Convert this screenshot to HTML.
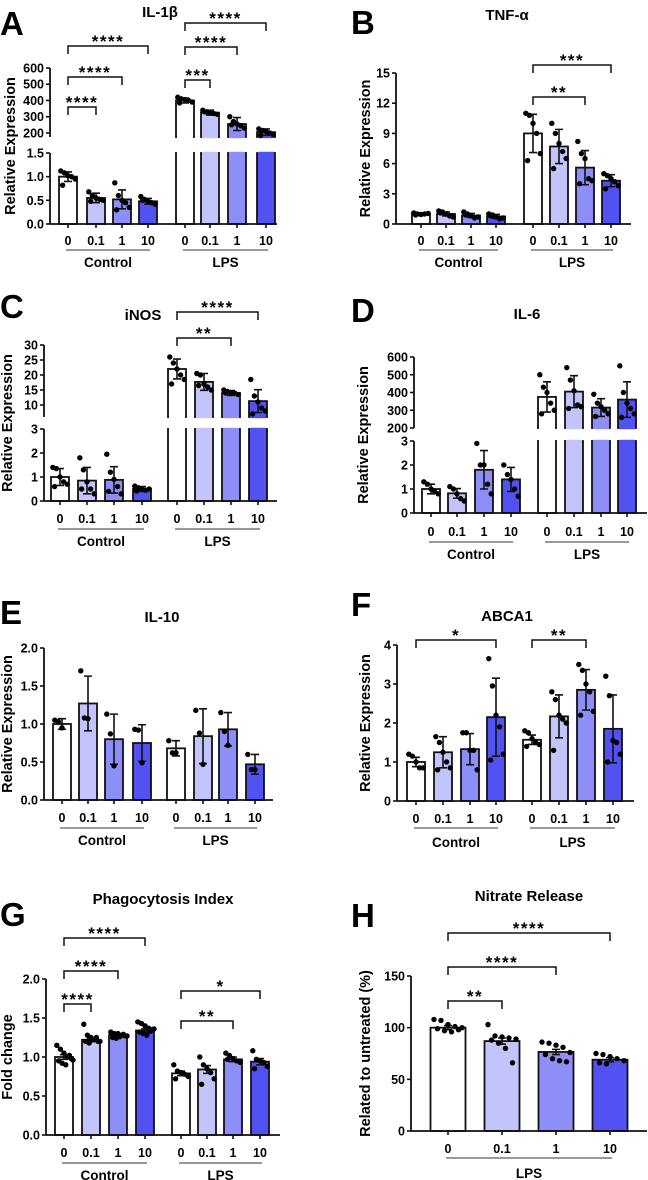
<!DOCTYPE html>
<html><head><meta charset="utf-8"><style>
html,body{margin:0;padding:0;background:#fff;}
svg{display:block;font-family:"Liberation Sans",Arial,sans-serif;font-weight:bold;}
</style></head><body>
<svg id="fig" width="648" height="1180" viewBox="0 0 648 1180" xmlns="http://www.w3.org/2000/svg"></svg>
<script>
// ===== DATA =====
const doseLabels = ["0","0.1","1","10"];
const groupNames = ["Control","LPS"];
// A IL-1b
const aMeans = [1.0,0.55,0.52,0.48,400,325,255,205];
const aErrs = [0.1,0.1,0.2,0.06,15,15,40,20];
const aPts = [[1.12,1.08,1.02,1.0,0.95,0.82],[0.68,0.6,0.55,0.52,0.5,0.48],[0.87,0.6,0.5,0.45,0.35,0.3],[0.58,0.52,0.48,0.45,0.42,0.5],[420,410,405,400,390,385],[340,330,325,320,315,330],[300,270,255,245,230,250],[225,215,210,200,190,185]];
const aTicksLow = [0,0.5,1.0,1.5], aTickLabLow = ["0.0","0.5","1.0","1.5"];
const aTicksUp = [200,300,400,500,600], aTickLabUp = ["200","300","400","500","600"];
// B TNF-a
const bMeans = [1.0,1.0,0.85,0.75,9,7.7,5.6,4.3];
const bErrs = [0.1,0.2,0.2,0.2,1.9,1.7,1.7,0.6];
const bPts = [[1.1,1.0,0.95,1.0,1.05,0.9],[1.3,1.2,1.0,0.8,0.7,1.1],[1.2,1.0,0.8,0.6,0.7,0.9],[1.0,0.9,0.7,0.5,0.6,0.8],[11,10.8,10,9,7,6.3],[10,9,8,7.2,6.5,5.5],[8.2,7,6.5,4.5,4.3,4],[5,4.8,4.5,4.2,3.8,3.5]];
const bTicks = [0,3,6,9,12,15], bTickLab = ["0","3","6","9","12","15"];
// C iNOS
const cMeans = [1.0,0.85,0.88,0.5,22,17.7,14,11.3];
const cErrs = [0.35,0.55,0.55,0.1,3.3,2.8,0.8,3.8];
const cPts = [[1.4,1.35,1.0,0.8,0.7,0.6],[1.8,1.3,0.8,0.5,0.3,0.5],[1.95,1.2,0.9,0.6,0.3,0.4],[0.62,0.55,0.5,0.45,0.5,0.42],[26,24,22,20,18.5,17],[20.5,20,17,16,15,16.5],[15,14.5,14,14,13.5,14],[18.5,13,11,9,8,7]];
const cTicksLow = [0,1,2,3], cTickLabLow = ["0","1","2","3"];
const cTicksUp = [10,15,20,25,30], cTickLabUp = ["10","15","20","25","30"];
// D IL-6
const dMeans = [1.0,0.82,1.8,1.4,375,405,315,360];
const dErrs = [0.2,0.2,0.8,0.5,85,90,50,100];
const dPts = [[1.3,1.2,1.0,0.9,0.8],[1.1,1.0,0.8,0.6,0.5],[2.9,2.0,2.0,1.2,0.8],[2.0,1.6,1.4,1.0,0.7],[500,430,400,340,300,280],[540,470,410,330,320,310],[390,340,320,300,280,265],[550,400,340,310,280,260]];
const dTicksLow = [0,1,2,3], dTickLabLow = ["0","1","2","3"];
const dTicksUp = [200,300,400,500,600], dTickLabUp = ["200","300","400","500","600"];
// E IL-10
const eMeans = [1.0,1.27,0.8,0.75,0.68,0.84,0.93,0.47];
const eErrs = [0.07,0.36,0.33,0.24,0.1,0.36,0.22,0.13];
const ePts = [[1.05,1.03,0.95],[1.7,1.08,1.07],[1.13,0.87,0.45],[0.93,0.92,0.49],[0.78,0.62,0.62],[1.18,0.88,0.47],[1.15,0.9,0.72],[0.6,0.4,0.4]];
const eTicks = [0,0.5,1.0,1.5,2.0], eTickLab = ["0.0","0.5","1.0","1.5","2.0"];
// F ABCA1
const fMeans = [1.0,1.25,1.33,2.15,1.57,2.17,2.85,1.85];
const fErrs = [0.12,0.4,0.4,1.0,0.12,0.55,0.52,0.87];
const fPts = [[1.2,1.15,1.0,0.85,0.85],[1.65,1.5,1.25,1.0,0.85,0.8],[1.75,1.75,1.3,1.3,0.8],[3.65,2.95,2.2,1.9,1.2,1.05],[1.8,1.75,1.6,1.5,1.45,1.4],[2.8,2.6,2.2,2.1,2.0,1.3],[3.5,3.35,3.0,2.8,2.3,2.2],[3.2,2.7,1.55,1.5,1.2,1.0]];
const fTicks = [0,1,2,3,4], fTickLab = ["0","1","2","3","4"];
// G Phagocytosis
const gMeans = [1.0,1.22,1.28,1.34,0.79,0.84,0.97,0.94];
const gErrs = [0.03,0.02,0.01,0.02,0.03,0.05,0.03,0.04];
const gPts = [[1.15,1.1,1.05,1.0,0.98,0.95,0.92,0.9,1.02,0.96],[1.42,1.28,1.25,1.22,1.2,1.2,1.18,1.22,1.25,1.2],[1.32,1.3,1.3,1.28,1.27,1.25,1.24,1.26,1.29,1.27],[1.45,1.43,1.4,1.37,1.35,1.32,1.3,1.28,1.33,1.36],[0.9,0.82,0.8,0.78,0.75,0.72],[1.0,0.9,0.85,0.8,0.72,0.65],[1.05,1.02,0.98,0.95,0.93,0.97],[1.08,0.97,0.95,0.93,0.88,0.85]];
const gTicks = [0,0.5,1.0,1.5,2.0], gTickLab = ["0.0","0.5","1.0","1.5","2.0"];
// H Nitrate
const hMeans = [100,87,76.5,69];
const hErrs = [2,3,2.5,2];
const hPts = [[108,107,103,101,100,99,97,96,98],[103,92,91,90,89,88,85,80,66],[86,85,83,81,76,74,70,68,67],[75,74,72,70,68,66,65]];
const hTicks = [0,50,100,150], hTickLab = ["0","50","100","150"];

// ===== RENDER =====
const NS = "http://www.w3.org/2000/svg";
const svg = document.getElementById("fig");
const colors = ["#ffffff","#c4c4fc","#8e8ef9","#5252f2"];
function mk(tag, attrs, parent, text){
  const e = document.createElementNS(NS, tag);
  for (const k in attrs) e.setAttribute(k, attrs[k]);
  if (text !== undefined) e.textContent = text;
  (parent || svg).appendChild(e);
  return e;
}
function panel(c){
  const g = mk("g", {});
  
  
  function segFor(v){ for (let i=c.segs.length-1;i>=0;i--){ if (v>=c.segs[i].v0) return c.segs[i]; } return c.segs[0]; }
  function y(v){ const s=segFor(v); const vv=Math.min(v,s.v1*1.2); return s.p0+(vv-s.v0)*(s.p1-s.p0)/(s.v1-s.v0); }
  function ys(s,v){ return s.p0+(v-s.v0)*(s.p1-s.p0)/(s.v1-s.v0); }
  const L = mk("text",{x:c.letter[1],y:c.letter[2],"font-size":33,fill:"#000"},g,c.letter[0]);
   
  const T = mk("text",{x:c.title[1],y:c.title[2],"font-size":15,"text-anchor":"middle",fill:"#000"},g,c.title[0]);
   
  const midY = (c.segs[0].p0 + c.segs[c.segs.length-1].p1)/2;
  const YT = mk("text",{x:0,y:0,"font-size":14.5,"text-anchor":"middle",transform:`translate(${c.yTitleX},${midY}) rotate(-90)`},g,c.yTitle);
   
  c.means.forEach((m,i)=>{
    const x = c.xs[i], bw=c.bw;
    c.segs.forEach(s=>{
      if (m > s.v0){
        const top = ys(s, Math.min(m, s.v1));
        const r = mk("rect",{x:x-bw/2,y:top,width:bw,height:s.p0-top,fill:colors[i%4],stroke:"#111","stroke-width":1.8},g);
         
        if (m > s.v1) mk("line",{x1:x-bw/2+1,x2:x+bw/2-1,y1:top,y2:top,stroke:colors[i%4],"stroke-width":2.4},g);
        if (s.v0>0) mk("line",{x1:x-bw/2+1,x2:x+bw/2-1,y1:s.p0,y2:s.p0,stroke:colors[i%4],"stroke-width":2.4},g);
      }
    });
    const e = c.errs[i], s = segFor(m);
    const yTop = ys(s, m+e), yBot = ys(s, Math.max(m-e, s.v0));
    const eb = mk("path",{d:`M${x},${yBot}L${x},${yTop}M${x-4},${yTop}L${x+4},${yTop}M${x-4},${ys(s,m-e)}L${x+4},${ys(s,m-e)}`,stroke:"#111","stroke-width":1.6,fill:"none"},g);
     
    c.pts[i].forEach((p,k)=>{
      const off = ((k%5)-2)*(bw*0.2) + (k>=5?bw*0.1:0);
      const d = mk("circle",{cx:x+off,cy:y(p),r:2.7,fill:"#000"},g);
       
    });
  });
  c.segs.forEach(s=>{
    const ax = mk("line",{x1:c.axX,x2:c.axX,y1:s.p0,y2:s.p1,stroke:"#111","stroke-width":1.8},g);
     
    s.ticks.forEach((t,k)=>{
      const ty = ys(s,t);
      mk("line",{x1:c.axX-4,x2:c.axX,y1:ty,y2:ty,stroke:"#111","stroke-width":1.6},g);
      const tl = mk("text",{x:c.axX-6,y:ty+4.5,"font-size":12.5,"text-anchor":"end"},g,s.labels[k]);
       
    });
  });
  const xa = mk("line",{x1:c.axX,x2:c.axEnd,y1:c.segs[0].p0,y2:c.segs[0].p0,stroke:"#111","stroke-width":1.8},g);
   
  c.xs.forEach((x,i)=>{
    mk("line",{x1:x,x2:x,y1:c.segs[0].p0,y2:c.segs[0].p0+4,stroke:"#111","stroke-width":1.6},g);
    const xl = mk("text",{x:x,y:c.tickY,"font-size":12.5,"text-anchor":"middle"},g,doseLabels[i%4]);
     
  });
  c.groups.forEach(gr=>{
    mk("line",{x1:c.xs[gr[0]]-2,x2:c.xs[gr[1]]+2,y1:c.groupLineY,y2:c.groupLineY,stroke:"#333","stroke-width":1},g);
    const gl = mk("text",{x:(c.xs[gr[0]]+c.xs[gr[1]])/2,y:c.groupY,"font-size":13.5,"text-anchor":"middle"},g,gr[2]);
     
  });
  (c.brackets||[]).forEach(b=>{
    const x1=c.xs[b[0]], x2=c.xs[b[1]], by=b[2];
    const br = mk("path",{d:`M${x1},${by+8}L${x1},${by}L${x2},${by}L${x2},${by+8}`,stroke:"#111","stroke-width":1.5,fill:"none"},g);
     
    const st = mk("text",{x:(x1+x2)/2,y:by+1,"font-size":17,"text-anchor":"middle","letter-spacing":"1.5"},g,b[3]);
     
  });
}
const G2 = [[0,3,"Control"],[4,7,"LPS"]];
panel({name:"panel-a-il1b",letter:["A",0,35],title:["IL-1β",160,17],yTitle:"Relative Expression",yTitleX:15,
  axX:50,axEnd:277,bw:18,xs:[68,96,122,148,185,210,237,266],
  segs:[{v0:0,v1:1.5,p0:224,p1:153,ticks:aTicksLow,labels:aTickLabLow},{v0:175,v1:600,p0:137,p1:68,ticks:aTicksUp,labels:aTickLabUp}],
  means:aMeans,errs:aErrs,pts:aPts,tickY:245,groupLineY:250,groupY:267,groups:G2,
  brackets:[[0,1,107,"****"],[0,2,77,"****"],[0,3,46,"****"],[4,5,80,"***"],[4,6,47,"****"],[4,7,23,"****"]]});
panel({name:"panel-b-tnfa",letter:["B",351,34],title:["TNF-α",507,20],yTitle:"Relative Expression",yTitleX:370,
  axX:396,axEnd:631,bw:18,xs:[421,446,471,496,533,559,585,611],
  segs:[{v0:0,v1:15,p0:224,p1:73,ticks:bTicks,labels:bTickLab}],
  means:bMeans,errs:bErrs,pts:bPts,tickY:245,groupLineY:250,groupY:267,groups:G2,
  brackets:[[4,6,97,"**"],[4,7,65,"***"]]});
panel({name:"panel-c-inos",letter:["C",0,318],title:["iNOS",143,320],yTitle:"Relative Expression",yTitleX:12,
  axX:44,axEnd:277,bw:18,xs:[60,87,114,142,177,204,231,258],
  segs:[{v0:0,v1:3,p0:501,p1:429,ticks:cTicksLow,labels:cTickLabLow},{v0:6,v1:30,p0:417,p1:345,ticks:cTicksUp,labels:cTickLabUp}],
  means:cMeans,errs:cErrs,pts:cPts,tickY:523,groupLineY:529,groupY:546,groups:G2,
  brackets:[[4,6,338,"**"],[4,7,312,"****"]]});
panel({name:"panel-d-il6",letter:["D",351,322],title:["IL-6",527,319],yTitle:"Relative Expression",yTitleX:368,
  axX:414,axEnd:647,bw:18,xs:[431,457,484,511,547,574,601,627],
  segs:[{v0:0,v1:3,p0:513,p1:441,ticks:dTicksLow,labels:dTickLabLow},{v0:200,v1:600,p0:428,p1:357,ticks:dTicksUp,labels:dTickLabUp}],
  means:dMeans,errs:dErrs,pts:dPts,tickY:536,groupLineY:542,groupY:559,groups:G2});
panel({name:"panel-e-il10",letter:["E",0,624],title:["IL-10",162,622],yTitle:"Relative Expression",yTitleX:12,
  axX:44,axEnd:273,bw:18,xs:[62,88,114,142,176,203,228,255],
  segs:[{v0:0,v1:2,p0:800,p1:648,ticks:eTicks,labels:eTickLab}],
  means:eMeans,errs:eErrs,pts:ePts,tickY:822,groupLineY:828,groupY:845,groups:G2});
panel({name:"panel-f-abca1",letter:["F",351,616],title:["ABCA1",507,621],yTitle:"Relative Expression",yTitleX:370,
  axX:397,axEnd:634,bw:18,xs:[416,443,470,496,532,559,586,613],
  segs:[{v0:0,v1:4,p0:801,p1:645,ticks:fTicks,labels:fTickLab}],
  means:fMeans,errs:fErrs,pts:fPts,tickY:823,groupLineY:828,groupY:847,groups:G2,
  brackets:[[0,3,640,"*"],[4,6,640,"**"]]});
panel({name:"panel-g-phagocytosis",letter:["G",0,926],title:["Phagocytosis Index",163,904],yTitle:"Fold change",yTitleX:12,
  axX:46,axEnd:280,bw:18,xs:[64,91,118,145,181,207,233,260],
  segs:[{v0:0,v1:2,p0:1135,p1:979,ticks:gTicks,labels:gTickLab}],
  means:gMeans,errs:gErrs,pts:gPts,tickY:1157,groupLineY:1163,groupY:1180,groups:G2,
  brackets:[[0,1,1004,"****"],[0,2,971,"****"],[0,3,938,"****"],[4,6,1021,"**"],[4,7,991,"*"]]});
panel({name:"panel-h-nitrate",letter:["H",351,927],title:["Nitrate Release",529,901],yTitle:"Related to untreated (%)",yTitleX:370,
  axX:411,axEnd:647,bw:35,xs:[448,502,556,610],
  segs:[{v0:0,v1:150,p0:1131,p1:976,ticks:hTicks,labels:hTickLab}],
  means:hMeans,errs:hErrs,pts:hPts,tickY:1153,groupLineY:1158,groupY:1178,groups:[[0,3,"LPS"]],
  brackets:[[0,1,1001,"**"],[0,2,967,"****"],[0,3,933,"****"]]});
</script>
</body></html>
